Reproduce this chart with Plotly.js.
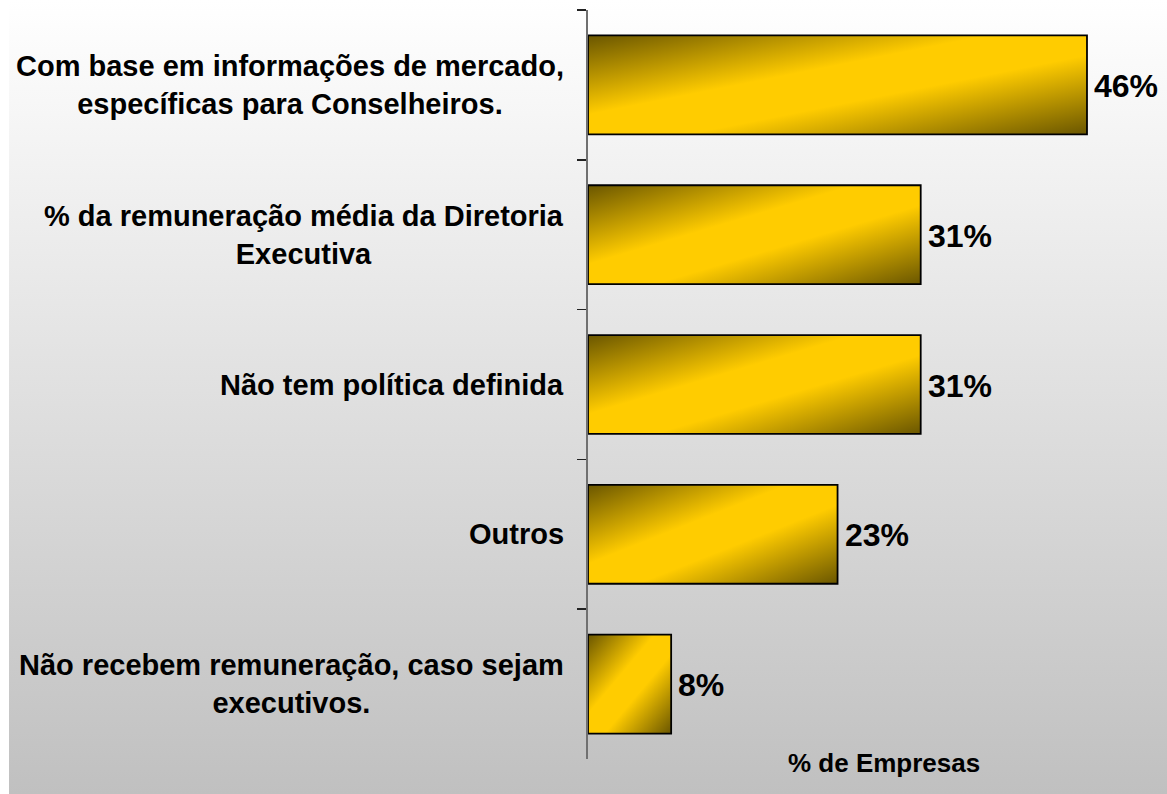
<!DOCTYPE html>
<html><head><meta charset="utf-8">
<script src="https://cdn.plot.ly/plotly-3.0.1.min.js"></script>
<style>
html,body{margin:0;padding:0;background:#fff;overflow:hidden;}
#bg{position:absolute;left:9px;top:0;width:1158px;height:794px;background:linear-gradient(to bottom,#ffffff 0%,#c0c0c0 100%);}
#chart{position:absolute;left:0;top:0;width:1167px;height:794px;}
</style></head><body>
<div id="bg"></div><div id="chart"></div>
<script>
const categories = [
  "Com base em informações de mercado,<br>específicas para Conselheiros.",
  "% da remuneração média da Diretoria<br>Executiva",
  "Não tem política definida",
  "Outros",
  "Não recebem remuneração, caso sejam<br>executivos."
];
const values = [46.15, 30.77, 30.77, 23.08, 7.69];
const axisTitle = "% de Empresas";

const FONT = "Liberation Sans, Arial, sans-serif";

const trace = {
  type: "bar",
  orientation: "h",
  y: categories,
  x: values,
  marker: {color: "#ffcc00", line: {color: "#000000", width: 1.8}},
  cliponaxis: false,
  hoverinfo: "skip"
};

const labelAnns = categories.map(c => ({
  xref: "paper", yref: "y", x: 0, y: c,
  xanchor: "right", yanchor: "middle", xshift: -22,
  align: "center", showarrow: false, text: c,
  font: {family: FONT, size: 29, color: "#000", weight: 700}
}));

const valueAnns = categories.map((c, i) => ({
  xref: "x", yref: "y", x: values[i], y: c,
  xanchor: "left", yanchor: "middle", xshift: 5, yshift: -1,
  showarrow: false, text: Math.round(values[i]) + "%",
  font: {family: FONT, size: 32, color: "#000", weight: 700}
}));

const layout = {
  width: 1167, height: 794,
  margin: {l: 588, r: 0, t: 10, b: 35},
  paper_bgcolor: "rgba(0,0,0,0)",
  plot_bgcolor: "rgba(0,0,0,0)",
  showlegend: false,
  bargap: 0.34,
  xaxis: {range: [0, 53.55], showgrid: false, zeroline: false, showline: false, showticklabels: false, ticks: "", fixedrange: true},
  yaxis: {type: "category", autorange: "reversed", showticklabels: false, showgrid: false, zeroline: false,
          showline: true, linecolor: "#707070", linewidth: 2,
          ticks: "outside", tickson: "boundaries", ticklen: 9, tickwidth: 1.5, tickcolor: "#222", fixedrange: true},
  annotations: labelAnns.concat(valueAnns).concat([{
    xref: "paper", yref: "paper", x: 0.511, y: -0.005, xanchor: "center", yanchor: "middle",
    showarrow: false, text: axisTitle,
    font: {family: FONT, size: 26, color: "#000", weight: 700}
  }])
};

Plotly.newPlot("chart", [trace], layout, {staticPlot: true}).then(() => {
  const ns = "http://www.w3.org/2000/svg";
  const svg = document.querySelector("#chart .main-svg");
  let defs = svg.querySelector("defs");
  if (!defs) { defs = document.createElementNS(ns, "defs"); svg.insertBefore(defs, svg.firstChild); }
  const lg = document.createElementNS(ns, "linearGradient");
  lg.setAttribute("id", "barGrad");
  lg.setAttribute("x1", "0"); lg.setAttribute("y1", "0");
  lg.setAttribute("x2", "1"); lg.setAttribute("y2", "1");
  [[0, "#6a5600"], [0.4, "#ffcc00"], [0.6, "#ffcc00"], [1, "#6a5600"]].forEach(([o, c]) => {
    const s = document.createElementNS(ns, "stop");
    s.setAttribute("offset", o); s.setAttribute("stop-color", c);
    lg.appendChild(s);
  });
  defs.appendChild(lg);
  document.querySelectorAll("#chart .barlayer .point path").forEach(p => { p.style.fill = "url(#barGrad)"; });
});
</script>
</body></html>
